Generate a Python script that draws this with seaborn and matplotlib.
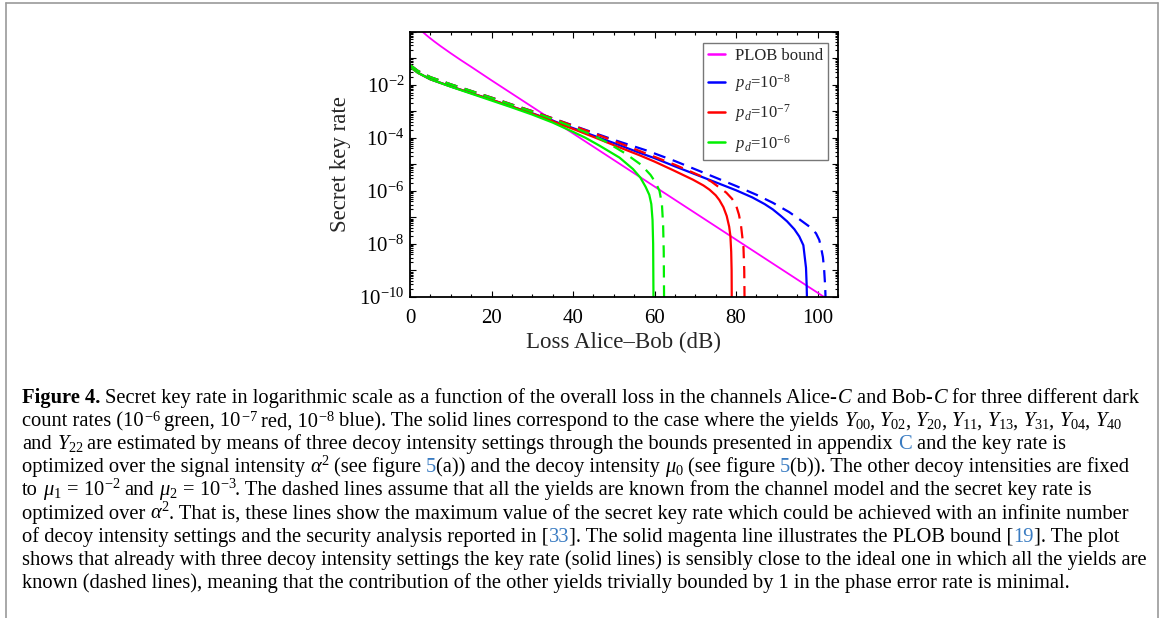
import numpy as np
import matplotlib
matplotlib.use("Agg")
import matplotlib.pyplot as plt
import seaborn as sns
from matplotlib.ticker import LogLocator, FuncFormatter, MultipleLocator, NullFormatter
from matplotlib.lines import Line2D

# ---------------- data ----------------
# loss Alice-Bob in dB, secret key rate given as log10 values
plob_x = [3, 4, 5, 6, 7.5, 10, 12.5, 15, 20, 25, 30, 60, 103]
plob_log = [0.0, -0.135, -0.26, -0.38, -0.55, -0.82, -1.08, -1.33, -1.84, -2.34, -2.84, -5.84, -10.14]

blue_x = [0, 2, 5, 10, 15, 20, 25, 30, 35, 40, 45, 50, 56, 60, 65, 70, 73, 80, 84, 87, 89, 91, 92.5, 94.3,
          95.5, 96.5, 97.15, 97.3, 97.45]
blue_log = [-1.33, -1.56, -1.8, -2.07, -2.32, -2.57, -2.83, -3.08, -3.36, -3.64, -3.92, -4.2, -4.55, -4.77, -5.08,
            -5.38, -5.56, -5.98, -6.25, -6.5, -6.7, -6.95, -7.15, -7.45, -7.72, -8.05, -8.9, -9.5, -10.5]
blue_dash_x = [0, 2, 5, 10, 15, 20, 25, 30, 35, 40, 45, 50, 58, 65, 72.7, 80, 85, 89, 93, 95.5, 98, 99.6, 100.4,
               100.8, 101.3, 101.6, 101.85, 102.05]
blue_dash_log = [-1.26, -1.49, -1.72, -1.99, -2.24, -2.49, -2.75, -3.0, -3.27, -3.54, -3.81, -4.08, -4.48, -4.88,
                 -5.36, -5.82, -6.15, -6.45, -6.8, -7.07, -7.35, -7.6, -7.85, -8.1, -8.5, -8.97, -9.6, -10.5]

red_x = [0, 2, 5, 10, 15, 20, 25, 30, 35, 40, 45, 50, 56.3, 60, 64.5, 69.4, 72, 73.5, 75, 75.9, 76.9, 77.7,
         78.3, 78.6, 78.8, 78.9, 78.95]
red_log = [-1.33, -1.56, -1.8, -2.07, -2.32, -2.57, -2.83, -3.09, -3.38, -3.67, -3.97, -4.28, -4.66, -4.9, -5.22,
           -5.58, -5.8, -5.96, -6.17, -6.35, -6.62, -6.95, -7.35, -7.7, -8.3, -9.0, -10.5]
red_dash_x = [0, 2, 5, 10, 15, 20, 25, 30, 35, 40, 45, 50, 55, 60, 65, 71, 73.9, 77.6, 79, 80, 80.7, 81.2, 81.8,
              82.0, 82.1]
red_dash_log = [-1.26, -1.49, -1.72, -1.99, -2.24, -2.49, -2.75, -3.0, -3.27, -3.55, -3.83, -4.12, -4.42, -4.72,
                -5.02, -5.42, -5.65, -6.07, -6.3, -6.55, -6.9, -7.3, -8.1, -9.0, -10.5]

green_x = [0, 2, 5, 10, 15, 20, 25, 30, 35, 40, 43, 46.5, 51.4, 54.7, 56.5, 57.8, 58.7, 59.2, 59.5, 59.65,
           59.75]
green_log = [-1.33, -1.56, -1.8, -2.08, -2.34, -2.6, -2.86, -3.13, -3.43, -3.78, -4.0, -4.3, -4.75, -5.18, -5.5,
             -5.85, -6.15, -6.5, -7.1, -8.0, -10.5]
green_dash_x = [0, 2, 5, 10, 15, 20, 25, 30, 35, 40, 45, 48, 52.7, 56.7, 59, 60.3, 61.2, 61.8, 62.1, 62.25,
                62.35]
green_dash_log = [-1.26, -1.49, -1.72, -1.99, -2.24, -2.5, -2.76, -3.02, -3.3, -3.6, -3.92, -4.15, -4.58, -5.02,
                  -5.4, -5.7, -6.0, -6.5, -7.3, -8.3, -10.5]

legend_labels = ["PLOB bound", "$p_d$=10$^{-8}$", "$p_d$=10$^{-7}$", "$p_d$=10$^{-6}$"]
x_ticks = [0, 20, 40, 60, 80, 100]
x_label = "Loss Alice\u2013Bob (dB)"
y_label = "Secret key rate"

caption_lines = [
    [("Figure 4.", "bold"), (" Secret key rate in logarithmic scale as a function of the overall loss in the channels Alice-$C$ and Bob-$C$ for three different dark", "n")],
    [("count rates (10$^{-6}$ green, 10$^{-7}$ red, 10$^{-8}$ blue). The solid lines correspond to the case where the yields $Y_{00}$, $Y_{02}$, $Y_{20}$, $Y_{11}$, $Y_{13}$, $Y_{31}$, $Y_{04}$, $Y_{40}$", "n")],
    [("and $Y_{22}$ are estimated by means of three decoy intensity settings through the bounds presented in appendix ", "n"), ("C", "link"), (" and the key rate is", "n")],
    [("optimized over the signal intensity $\\alpha^2$ (see figure ", "n"), ("5", "link"), ("(a)) and the decoy intensity $\\mu_0$ (see figure ", "n"), ("5", "link"), ("(b)). The other decoy intensities are fixed", "n")],
    [("to $\\mu_1\\,=\\,10^{-2}$ and $\\mu_2\\,=\\,10^{-3}$. The dashed lines assume that all the yields are known from the channel model and the secret key rate is", "n")],
    [("optimized over $\\alpha^2$. That is, these lines show the maximum value of the secret key rate which could be achieved with an infinite number", "n")],
    [("of decoy intensity settings and the security analysis reported in [", "n"), ("33", "link"), ("]. The solid magenta line illustrates the PLOB bound [", "n"), ("19", "link"), ("]. The plot", "n")],
    [("shows that already with three decoy intensity settings the key rate (solid lines) is sensibly close to the ideal one in which all the yields are", "n")],
    [("known (dashed lines), meaning that the contribution of the other yields trivially bounded by 1 in the phase error rate is minimal.", "n")],
]

# ---------------- style ----------------
sns.set_style("ticks")
plt.rcParams["font.family"] = ["Liberation Serif", "DejaVu Serif"]
plt.rcParams["mathtext.fontset"] = "custom"
plt.rcParams["mathtext.rm"] = "Liberation Serif"
plt.rcParams["mathtext.it"] = "Liberation Serif:italic"
plt.rcParams["mathtext.bf"] = "Liberation Serif:bold"
plt.rcParams["mathtext.fallback"] = "stix"

W, H = 1165, 618
fig = plt.figure(figsize=(W / 100, H / 100), dpi=100)
fig.patch.set_facecolor("white")

ax_l, ax_r, ax_t, ax_b = 410, 838, 31.5, 297
ax = fig.add_axes([ax_l / W, 1 - ax_b / H, (ax_r - ax_l) / W, (ax_b - ax_t) / H])

MAG, BLU, RED, GRN = "#ff00ff", "#0000ff", "#ff0000", "#00f000"
dash = (0, (5.5, 3.5))
lw = 1.6


def rate(v):
    return 10.0 ** np.asarray(v, dtype=float)


sns.lineplot(x=plob_x, y=rate(plob_log), ax=ax, color=MAG, lw=1.3, label=legend_labels[0], sort=False, estimator=None)
sns.lineplot(x=blue_x, y=rate(blue_log), ax=ax, color=BLU, lw=lw, label=legend_labels[1], sort=False, estimator=None)
sns.lineplot(x=red_x, y=rate(red_log), ax=ax, color=RED, lw=lw, label=legend_labels[2], sort=False, estimator=None)
sns.lineplot(x=green_x, y=rate(green_log), ax=ax, color=GRN, lw=lw, label=legend_labels[3], sort=False, estimator=None)
sns.lineplot(x=blue_dash_x, y=rate(blue_dash_log), ax=ax, color=BLU, lw=lw, linestyle=dash, sort=False, estimator=None)
sns.lineplot(x=red_dash_x, y=rate(red_dash_log), ax=ax, color=RED, lw=lw, linestyle=dash, sort=False, estimator=None)
sns.lineplot(x=green_dash_x, y=rate(green_dash_log), ax=ax, color=GRN, lw=lw, linestyle=dash, sort=False, estimator=None)

ax.set_yscale("log")
ax.set_xlim(0, 105)
ax.set_ylim(1e-10, 1e0)

ax.set_xticks(x_ticks)
ax.xaxis.set_minor_locator(MultipleLocator(5))
ax.yaxis.set_major_locator(LogLocator(base=10, subs=(1.0,), numticks=20))
ax.yaxis.set_minor_locator(LogLocator(base=10, subs=np.arange(2, 10), numticks=20))
ax.yaxis.set_minor_formatter(NullFormatter())


def yfmt(v, pos):
    e = int(round(np.log10(v)))
    if e % 2 == 0 and e < 0:
        return "$10^{%d}$" % e
    return ""


ax.yaxis.set_major_formatter(FuncFormatter(yfmt))

for s in ax.spines.values():
    s.set_linewidth(1.3)
    s.set_color("black")
ax.tick_params(which="both", direction="in", top=True, right=True, colors="black", width=0.8)
ax.tick_params(which="major", length=4.0)
ax.tick_params(which="minor", length=2.0)
ax.tick_params(axis="x", labelsize=15, pad=8.5)
ax.tick_params(axis="y", labelsize=15, pad=4)

ax.set_xlabel(x_label, fontsize=16.5, labelpad=3)
ax.set_ylabel(y_label, fontsize=16.5, labelpad=6)

leg = ax.legend(loc="upper right", bbox_to_anchor=(0.977, 0.957), borderaxespad=0, fontsize=12,
                handlelength=1.05, handletextpad=0.6, labelspacing=0.5, frameon=True, fancybox=False,
                borderpad=0.3)
leg.get_frame().set_edgecolor("#555555")
leg.get_frame().set_linewidth(1.0)
for h in leg.get_lines():
    h.set_linewidth(1.8)

# ---------------- frame around the figure ----------------
bc = "#9a9a9a"
fig.add_artist(Line2D([6 / W, 6 / W], [0, 1 - 3 / H], color=bc, lw=1.2, transform=fig.transFigure))
fig.add_artist(Line2D([1158 / W, 1158 / W], [0, 1 - 3 / H], color=bc, lw=1.2, transform=fig.transFigure))
fig.add_artist(Line2D([6 / W, 1158 / W], [1 - 3 / H, 1 - 3 / H], color=bc, lw=1.2, transform=fig.transFigure))

# ---------------- caption ----------------
renderer = fig.canvas.get_renderer()
styles = {"n": dict(color="black"), "bold": dict(color="black", fontweight="bold"),
          "link": dict(color="#3a7cc2")}

# size chosen so that first line spans the same width as in the reference
probe = fig.text(0, 0, caption_lines[0][0][0] + caption_lines[0][1][0], fontsize=12)
pw = probe.get_window_extent(renderer).width
probe.remove()
cap_size = 12 * 1113.0 / pw
space_w = cap_size * 100 / 72 * 0.25


def pieces(text):
    # split a segment into plain-text and math parts (each drawn as its own text)
    out = []
    parts = text.split("$")
    for k, p in enumerate(parts):
        if p == "":
            continue
        out.append(("$" + p + "$") if k % 2 == 1 else p)
    return out


x0 = 22
for i, segs in enumerate(caption_lines):
    yb = 398 + 23.1 * i + 5
    x = x0
    for text, st in segs:
        for p in pieces(text):
            lead = len(p) - len(p.lstrip(" "))
            trail = len(p) - len(p.rstrip(" "))
            core = p.strip(" ")
            x += lead * space_w
            if core:
                t = fig.text(x / W, 1 - yb / H, core, fontsize=cap_size, ha="left", va="baseline", **styles[st])
                x += t.get_window_extent(renderer).width
                if core.startswith("$"):
                    x -= 1.5
            x += trail * space_w

fig.savefig("out.png", dpi=100, facecolor="white")
